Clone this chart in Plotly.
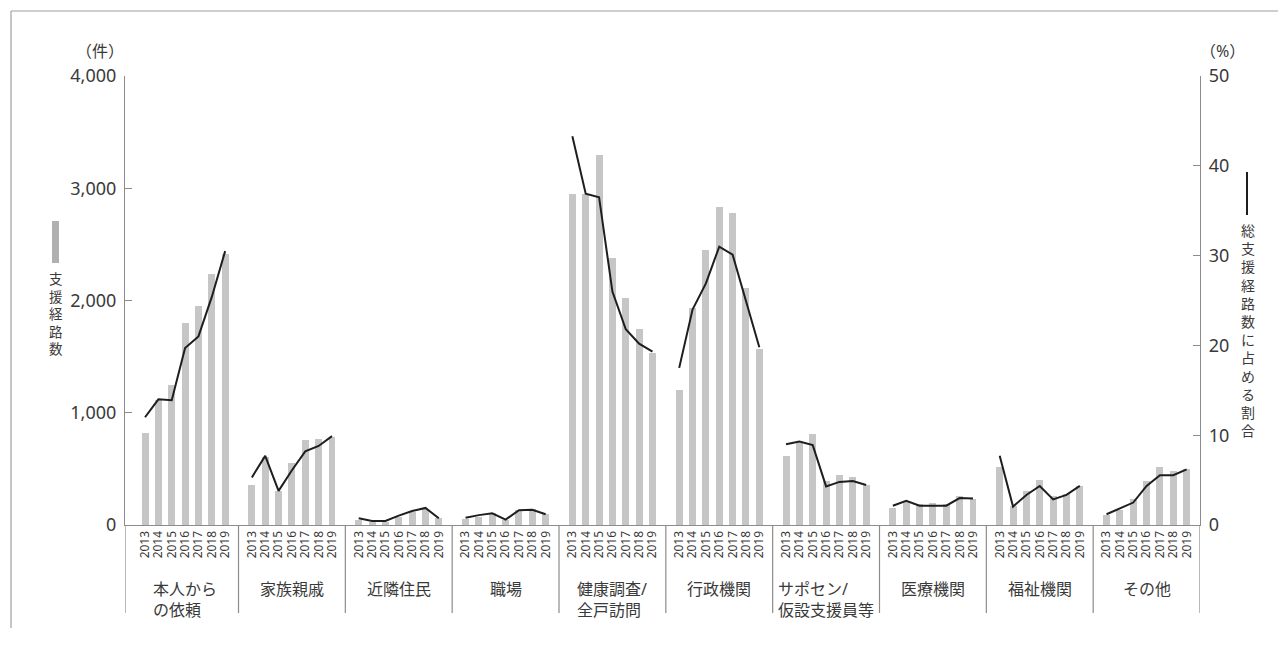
import plotly.graph_objects as go

# ---- data -------------------------------------------------------------
categories = ["本人から<br>の依頼", "家族親戚", "近隣住民", "職場", "健康調査/<br>全戸訪問",
              "行政機関", "サポセン/<br>仮設支援員等", "医療機関", "福祉機関", "その他"]
years = ["2013", "2014", "2015", "2016", "2017", "2018", "2019"]

# 支援経路数 (件)
counts_honnin = [820, 1110, 1250, 1800, 1950, 2240, 2410]
counts_kazoku = [360, 610, 300, 550, 760, 770, 780]
counts_kinrin = [45, 25, 25, 75, 115, 140, 60]
counts_shokuba = [56, 75, 104, 45, 134, 140, 95]
counts_kenko = [2950, 2950, 3300, 2380, 2020, 1750, 1530]
counts_gyosei = [1200, 1930, 2450, 2830, 2780, 2110, 1570]
counts_sapo = [615, 730, 810, 390, 445, 425, 355]
counts_iryo = [150, 210, 190, 195, 190, 260, 235]
counts_fukushi = [515, 165, 300, 400, 260, 275, 345]
counts_other = [90, 135, 230, 390, 515, 480, 495]

# 総支援経路数に占める割合 (%)
share_honnin = [12.0, 14.0, 13.9, 19.7, 21.0, 25.4, 30.5]
share_kazoku = [5.3, 7.7, 3.8, 6.1, 8.2, 8.8, 9.9]
share_kinrin = [0.75, 0.45, 0.45, 1.05, 1.55, 1.9, 0.75]
share_shokuba = [0.8, 1.1, 1.3, 0.6, 1.65, 1.7, 1.2]
share_kenko = [43.3, 36.9, 36.5, 26.0, 21.8, 20.2, 19.3]
share_gyosei = [17.5, 24.0, 26.9, 31.0, 30.1, 24.9, 19.8]
share_sapo = [9.0, 9.3, 8.9, 4.3, 4.8, 4.9, 4.45]
share_iryo = [2.15, 2.7, 2.15, 2.15, 2.15, 3.0, 2.95]
share_fukushi = [7.7, 2.05, 3.35, 4.35, 2.85, 3.35, 4.35]
share_other = [1.2, 1.85, 2.5, 4.35, 5.55, 5.55, 6.2]

counts = [counts_honnin, counts_kazoku, counts_kinrin, counts_shokuba, counts_kenko,
          counts_gyosei, counts_sapo, counts_iryo, counts_fukushi, counts_other]
shares = [share_honnin, share_kazoku, share_kinrin, share_shokuba, share_kenko,
          share_gyosei, share_sapo, share_iryo, share_fukushi, share_other]

left_ticks = [0, 1000, 2000, 3000, 4000]
right_ticks = [0, 10, 20, 30, 40, 50]

left_title = "支援経路数"
right_title = "総支援経路数に占める割合"

# ---- layout geometry ----------------------------------------------------
W, H = 1278, 645
M_L, M_R, M_T, M_B = 125, 78, 76, 120
PW, PH = W - M_L - M_R, H - M_T - M_B
GROUP = 8  # slots per category (7 years + gap)

FONT = "Noto Sans, Noto Sans CJK JP"
TXT = "#3a3a3a"
AXC = "#8c8c8c"


def px_x(px):
    return (px - M_L) / PW


def px_y(py):
    return (H - M_B - py) / PH


# bar positions per category / year
xs, ys, xl, yl, tick_x, tick_t = [], [], [], [], [], []
for g, (cv, sv) in enumerate(zip(counts, shares)):
    for j, y in enumerate(years):
        pos = g * GROUP + 1 + j
        xs.append(pos)
        ys.append(cv[j])
        xl.append(pos)
        yl.append(sv[j])
        tick_x.append(pos)
        tick_t.append(y)
    xl.append(None)
    yl.append(None)

fig = go.Figure()
fig.add_trace(go.Bar(x=xs, y=ys, width=0.52, marker=dict(color="#c6c6c6", line=dict(width=0)),
                     name="支援経路数", showlegend=False))
fig.add_trace(go.Scatter(x=xl, y=yl, yaxis="y2", mode="lines",
                         line=dict(color="#1e1e1e", width=2), connectgaps=False,
                         name="総支援経路数に占める割合", showlegend=False))

shapes = []
# group separators below the axis
for g in range(len(categories) + 1):
    xv = -0.5 if g == 0 else g * GROUP
    shapes.append(dict(type="line", xref="x", yref="paper", x0=xv, x1=xv,
                       y0=0, y1=px_y(613), line=dict(color=AXC, width=1.2)))
# outer frame lines
shapes.append(dict(type="line", xref="paper", yref="paper", x0=px_x(11), x1=px_x(1280),
                   y0=px_y(11), y1=px_y(11), line=dict(color="#a0a0a0", width=1.2)))
shapes.append(dict(type="line", xref="paper", yref="paper", x0=px_x(11), x1=px_x(11),
                   y0=px_y(11), y1=px_y(628), line=dict(color="#a0a0a0", width=1.2)))
# legend keys
shapes.append(dict(type="rect", xref="paper", yref="paper", x0=px_x(52), x1=px_x(59),
                   y0=px_y(221), y1=px_y(263), fillcolor="#b0b0b0", line=dict(width=0)))
shapes.append(dict(type="line", xref="paper", yref="paper", x0=px_x(1247), x1=px_x(1247),
                   y0=px_y(172), y1=px_y(215), line=dict(color="#1e1e1e", width=2)))


def label(x, y, text, size, xref="paper", yanchor="middle", align="left"):
    return dict(x=x, y=y, xref=xref, yref="paper", text=text, showarrow=False,
                xanchor="center", yanchor=yanchor, align=align,
                font=dict(family=FONT, size=size, color=TXT))


annotations = []
for g, name in enumerate(categories):
    annotations.append(label(g * GROUP + 4, px_y(576), name, 16, xref="x", yanchor="top"))
annotations.append(label(px_x(100), px_y(51), "（件）", 16))
annotations.append(label(px_x(1222), px_y(51), "（%）", 16))
# vertical axis titles, stacked one character per line
annotations.append(label(px_x(56), px_y(268), "<br>".join(left_title), 13.5,
                         yanchor="top", align="center"))
annotations.append(label(px_x(1248), px_y(219), "<br>".join(right_title), 14,
                         yanchor="top", align="center"))

fig.update_layout(
    width=W, height=H,
    margin=dict(l=M_L, r=M_R, t=M_T, b=M_B),
    paper_bgcolor="white", plot_bgcolor="white",
    bargap=0,
    xaxis=dict(range=[-0.5, len(categories) * GROUP], tickvals=tick_x, ticktext=tick_t,
               tickangle=-90, tickfont=dict(family=FONT, size=12, color=TXT),
               showgrid=False, zeroline=False, showline=True, linecolor=AXC, linewidth=1.2,
               ticks="", fixedrange=True),
    yaxis=dict(range=[0, 4000], tickvals=left_ticks,
               ticktext=[f"{v:,}" for v in left_ticks],
               tickfont=dict(family=FONT, size=18, color=TXT),
               showgrid=False, zeroline=False, showline=True, linecolor=AXC, linewidth=1.2,
               ticks="inside", ticklen=7, tickcolor=AXC, ticklabelstandoff=4),
    yaxis2=dict(range=[0, 50], tickvals=right_ticks, overlaying="y", side="right",
                tickfont=dict(family=FONT, size=18, color=TXT),
                showgrid=False, zeroline=False, showline=True, linecolor=AXC, linewidth=1.2,
                ticks="inside", ticklen=7, tickcolor=AXC, ticklabelstandoff=4),
    shapes=shapes,
    annotations=annotations,
    showlegend=False,
)

fig.write_html("out.html")
